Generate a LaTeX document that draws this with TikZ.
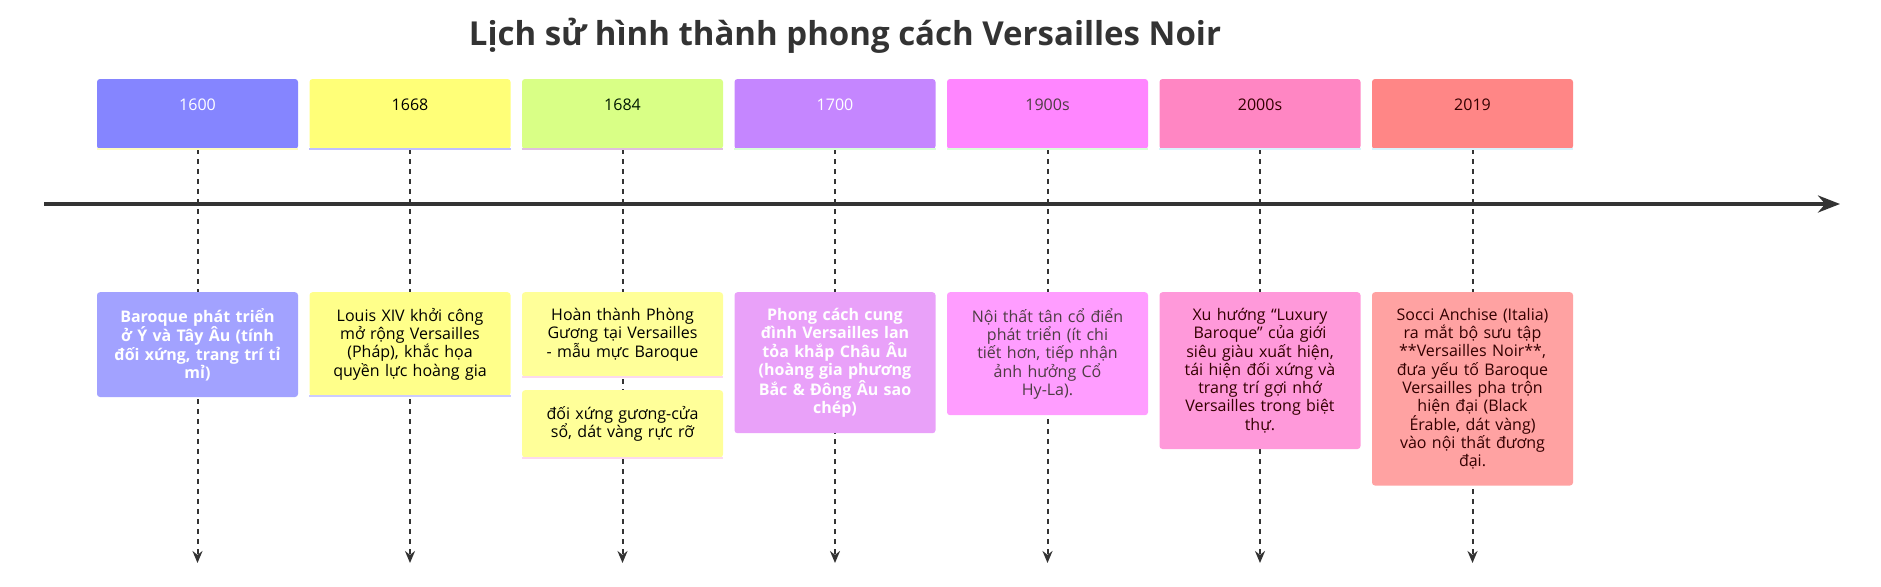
\documentclass[tikz,border=0pt]{standalone}
\usepackage{fontspec}
\setmainfont{Open Sans}
\usetikzlibrary{arrows.meta, backgrounds}
\tikzset{>={Stealth[length=12pt, width=10pt]}}

\definecolor{hblue}{HTML}{8585FF}
\definecolor{eblue}{HTML}{A2A2FF}
\definecolor{hyellow}{HTML}{FFFF78}
\definecolor{eyellow}{HTML}{FFFF8A}
\definecolor{hlime}{HTML}{D9FF86}
\definecolor{elime}{HTML}{FFFF99}
\definecolor{hviolet}{HTML}{C586FF}
\definecolor{eviolet}{HTML}{E9A1F9}
\definecolor{hmagenta}{HTML}{FF86FF}
\definecolor{emagenta}{HTML}{FF9DFF}
\definecolor{hpink}{HTML}{FF86C3}
\definecolor{epink}{HTML}{FF99DA}
\definecolor{hred}{HTML}{FF8686}
\definecolor{ered}{HTML}{FFA2A2}
\definecolor{inkdark}{HTML}{333333}

\begin{document}
\begin{tikzpicture}[x=1pt, y=-1pt,
    hdr/.style={rounded corners=3pt, minimum width=201pt, minimum height=70pt,
        text height=11pt, text depth=19pt, font=\fontsize{16}{18.3}\selectfont},
    evt/.style={rounded corners=3pt, anchor=north, minimum width=201pt, text width=180pt,
        align=center, inner ysep=16pt, font=\fontsize{16}{18.3}\selectfont},
    link/.style={->, line width=2pt, dash pattern=on 5pt off 5pt, inkdark}]
    \useasboundingbox (0,0) rectangle (1881,586);

    \node[font=\fontsize{33}{40}\selectfont\bfseries, text=inkdark] (title) at (845,36)
        {Lịch sử hình thành phong cách Versailles Noir};

    % periods
    \node[hdr, fill=hblue, text=white] (h1) at (197.5,114) {1600};
    \node[hdr, fill=hyellow, text=black] (h2) at (410,114) {1668};
    \node[hdr, fill=hlime, text=black!90!green] (h3) at (622.5,114) {1684};
    \node[hdr, fill=hviolet, text=white] (h4) at (835,114) {1700};
    \node[hdr, fill=hmagenta, text=black!80!magenta] (h5) at (1047.5,114) {1900s};
    \node[hdr, fill=hpink, text=black!80!red] (h6) at (1260,114) {2000s};
    \node[hdr, fill=hred, text=black!80!red] (h7) at (1472.5,114) {2019};

    % events
    \node[evt, fill=eblue, text=white, font=\fontsize{16}{18.3}\selectfont\bfseries] (e1) at (197.5,292)
        {Baroque phát triển\\ở Ý và Tây Âu (tính\\đối xứng, trang trí tỉ\\mỉ)};
    \node[evt, fill=eyellow, text=black] (e2) at (410,292)
        {Louis XIV khởi công\\mở rộng Versailles\\(Pháp), khắc họa\\quyền lực hoàng gia};
    \node[evt, fill=elime, text=black] (e3) at (622.5,292)
        {Hoàn thành Phòng\\Gương tại Versailles\\- mẫu mực Baroque};
    \node[evt, fill=elime, text=black] (e3b) at (622.5,390)
        {đối xứng gương-cửa\\sổ, dát vàng rực rỡ};
    \node[evt, fill=eviolet, text=white, font=\fontsize{16}{18.3}\selectfont\bfseries] (e4) at (835,292)
        {Phong cách cung\\đình Versailles lan\\tỏa khắp Châu Âu\\(hoàng gia phương\\Bắc \& Đông Âu sao\\chép)};
    \node[evt, fill=emagenta, text=black!80!magenta] (e5) at (1047.5,292)
        {Nội thất tân cổ điển\\phát triển (ít chi\\tiết hơn, tiếp nhận\\ảnh hưởng Cổ\\Hy-La).};
    \node[evt, fill=epink, text=black!80!red] (e6) at (1260,292)
        {Xu hướng “Luxury\\Baroque” của giới\\siêu giàu xuất hiện,\\tái hiện đối xứng và\\trang trí gợi nhớ\\Versailles trong biệt\\thự.};
    \node[evt, fill=ered, text=black!80!red] (e7) at (1472.5,292)
        {Socci Anchise (Italia)\\ra mắt bộ sưu tập\\{}**Versailles Noir**,\\đưa yếu tố Baroque\\Versailles pha trộn\\hiện đại (Black\\Érable, dát vàng)\\vào nội thất đương\\đại.};

    % thin strips under the boxes
    \draw[line width=2pt, yellow!25] (h1.south west) -- (h1.south east);
    \draw[line width=2pt, blue!25] (h2.south west) -- (h2.south east);
    \draw[line width=2pt, violet!25] (h3.south west) -- (h3.south east);
    \draw[line width=2pt, green!15] (h4.south west) -- (h4.south east);
    \draw[line width=2pt, green!15] (h5.south west) -- (h5.south east);
    \draw[line width=2pt, cyan!15] (h6.south west) -- (h6.south east);
    \draw[line width=2pt, cyan!15] (h7.south west) -- (h7.south east);
    \draw[line width=2pt, blue!20] (e2.south west) -- (e2.south east);
    \draw[line width=2pt, magenta!15] (e3.south west) -- (e3.south east);
    \draw[line width=2pt, magenta!15] (e3b.south west) -- (e3b.south east);

    % time axis
    \coordinate (t0) at (44,204);
    \coordinate (t1) at (1840,204);
    \draw[line width=4pt, inkdark, -{Stealth[length=22pt, width=17pt]}] (t0) -- (t1);

    \coordinate (a1) at (197.5,563);
    \coordinate (a2) at (410,563);
    \coordinate (a3) at (622.5,563);
    \coordinate (a4) at (835,563);
    \coordinate (a5) at (1047.5,563);
    \coordinate (a6) at (1260,563);
    \coordinate (a7) at (1472.5,563);
    \begin{scope}[on background layer]
        \draw[link] (h1) -- (a1);
        \draw[link] (h2) -- (a2);
        \draw[link] (h3) -- (a3);
        \draw[link] (h4) -- (a4);
        \draw[link] (h5) -- (a5);
        \draw[link] (h6) -- (a6);
        \draw[link] (h7) -- (a7);
    \end{scope}
\end{tikzpicture}
\end{document}
